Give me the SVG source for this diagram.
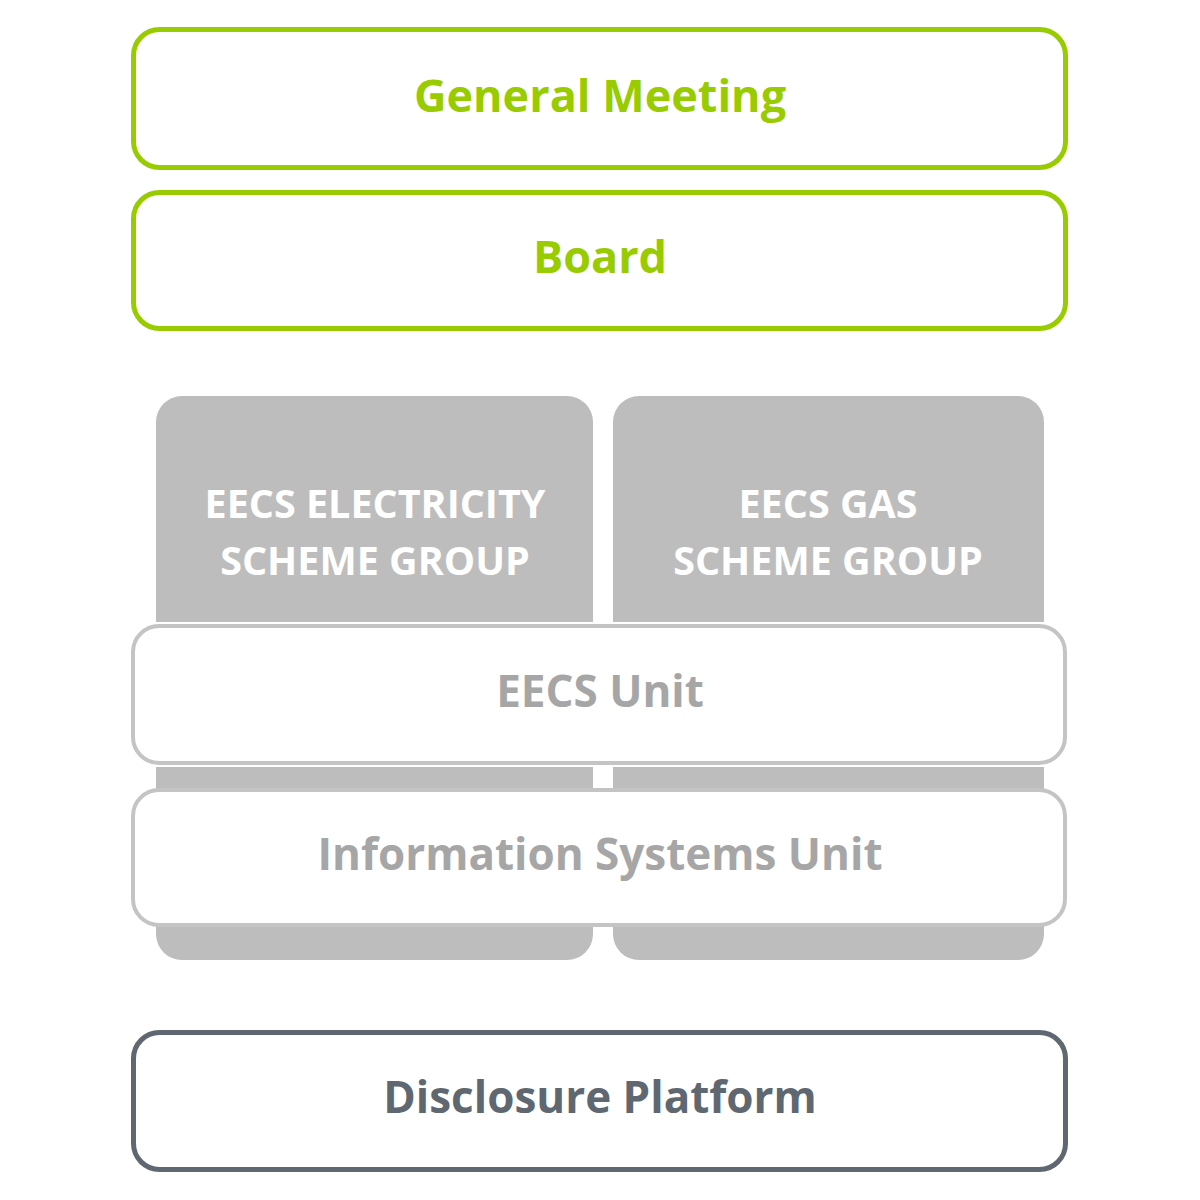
<svg xmlns="http://www.w3.org/2000/svg" width="1200" height="1200" viewBox="0 0 1200 1200">
<style>
.t{font-family:"Open Sans","Liberation Sans",sans-serif;font-weight:bold;text-anchor:middle;}
.green{fill:#fff;stroke:#99cc00;stroke-width:5;}
.gtext{fill:#99cc00;font-size:45px;}
.col{fill:#bdbdbd;}
.unit{fill:#fff;stroke:#c4c4c4;stroke-width:4;}
.utext{fill:#a6a6a6;font-size:44px;}
.ctext{fill:#fff;font-size:39.5px;}
.disc{fill:#fff;stroke:#5f6870;stroke-width:5;}
.dtext{fill:#5f6870;font-size:44px;}
</style>
<rect width="1200" height="1200" fill="#fff"/>
<g id="general-meeting">
<rect class="green" x="133.5" y="29.5" width="932" height="138" rx="26"/>
<text class="t gtext" x="600" y="112">General Meeting</text>
</g>
<g id="board">
<rect class="green" x="133.5" y="192.5" width="932" height="136" rx="26"/>
<text class="t gtext" x="600" y="273">Board</text>
</g>
<g id="electricity-group">
<rect class="col" x="156" y="396" width="437" height="564" rx="26"/>
<text class="t ctext" x="375" y="518">EECS ELECTRICITY</text>
<text class="t ctext" x="375" y="575">SCHEME GROUP</text>
</g>
<g id="gas-group">
<rect class="col" x="613" y="396" width="431" height="564" rx="26"/>
<text class="t ctext" x="828" y="518">EECS GAS</text>
<text class="t ctext" x="828" y="575">SCHEME GROUP</text>
</g>
<g id="eecs-unit">
<rect x="131" y="622" width="936" height="145" fill="#fff"/>
<rect class="unit" x="133" y="626" width="932" height="137" rx="26"/>
<text class="t utext" x="600" y="707">EECS Unit</text>
</g>
<g id="is-unit">
<rect class="unit" x="133" y="790" width="932" height="135" rx="26"/>
<text class="t utext" x="600" y="870">Information Systems Unit</text>
</g>
<g id="disclosure-platform">
<rect class="disc" x="133.5" y="1032.5" width="932" height="137" rx="26"/>
<text class="t dtext" x="600" y="1113">Disclosure Platform</text>
</g>
<g id="connectors"></g>
</svg>
